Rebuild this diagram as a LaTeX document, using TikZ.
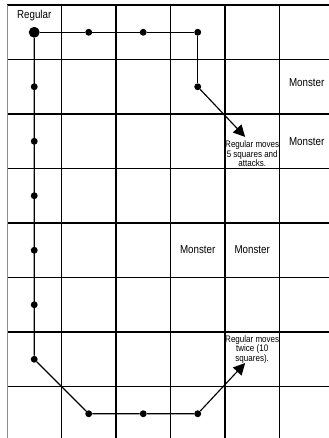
\documentclass[tikz,border=0pt]{standalone}
\usepackage{fontspec}
\newfontfamily\condfont[FakeStretch=0.85]{Liberation Sans}
\usetikzlibrary{arrows.meta,positioning}

\begin{document}
\begin{tikzpicture}[
    x=1.5cm, y=-1.5cm,
    grid/.style={line width=1.1pt, black},
    border/.style={line width=0.5pt, black!45},
    route/.style={line width=0.9pt, black},
    arrow/.style={route, -{Triangle[length=3.2mm, width=3.2mm]}},
    dot/.style={circle, fill=black, inner sep=0pt, minimum size=1.9mm},
    start/.style={circle, fill=black, inner sep=0pt, minimum size=3mm},
    label/.style={font=\condfont\fontsize{9}{10}\selectfont},
    note/.style={font=\condfont\fontsize{7.4}{7.2}\selectfont, align=center, inner sep=0pt}
]
\useasboundingbox (-0.128,-0.092) rectangle (5.908,7.945);

% Board
\foreach \c in {1,...,5}
    \draw[grid] (\c,0) -- (\c,7.945);
\foreach \r in {0,...,7}
    \draw[grid] (0,\r) -- (5.908,\r);
\draw[border] (0,0) -- (0,7.945);

% Squares on the route
\node[start] (s00) at (0.5,0.5) {};
\node[dot] (s10) at (1.5,0.5) {};
\node[dot] (s20) at (2.5,0.5) {};
\node[dot] (s30) at (3.5,0.5) {};
\node[dot] (s31) at (3.5,1.5) {};
\foreach \r in {1,...,6}
    \node[dot] (s0\r) at (0.5,\r+0.5) {};
\node[dot] (s17) at (1.5,7.5) {};
\node[dot] (s27) at (2.5,7.5) {};
\node[dot] (s37) at (3.5,7.5) {};
\coordinate (end1) at (4.37,2.42);
\coordinate (end2) at (4.37,6.57);

% Single move
\draw[route] (s00) -- (s10) -- (s20) -- (s30) -- (s31);
\draw[arrow] (s31) -- (end1);

% Double move
\draw[route] (s00) -- (s06) -- (s17) -- (s27) -- (s37);
\draw[arrow] (s37) -- (end2);

% Labels
\node[label] (regular) at (0.5,0.2) {Regular};
\node[label] (m1) at (5.5,1.43) {Monster};
\node[label] (m2) at (5.5,2.51) {Monster};
\node[label] (m3) at (3.5,4.48) {Monster};
\node[label] (m4) at (4.5,4.48) {Monster};
\node[note] (note1) at (4.5,2.73) {Regular moves\\5 squares and\\attacks.};
\node[note] (note2) at (4.5,6.32) {Regular moves\\twice (10\\squares).};

\end{tikzpicture}
\end{document}
